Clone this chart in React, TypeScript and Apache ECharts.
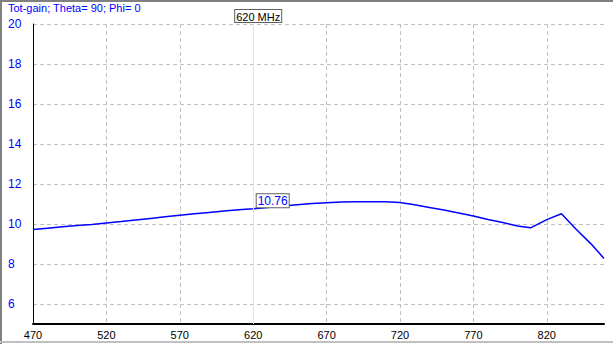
import React, { useEffect, useRef } from "react";
import * as echarts from "echarts";

const titleText = "Tot-gain; Theta= 90; Phi= 0";
const freqs = [470, 480, 490, 500, 510, 520, 530, 540, 550, 560, 570, 580, 590, 600, 610, 620, 630, 640, 650, 660, 670, 680, 690, 700, 710, 720, 730, 740, 750, 760, 770, 780, 790, 800, 809, 820, 830, 840, 850, 859];
const gains = [9.72, 9.79, 9.86, 9.92, 9.98, 10.05, 10.12, 10.2, 10.28, 10.36, 10.44, 10.51, 10.58, 10.65, 10.71, 10.76, 10.83, 10.9, 10.96, 11.02, 11.06, 11.1, 11.11, 11.11, 11.11, 11.07, 10.96, 10.83, 10.7, 10.55, 10.4, 10.23, 10.07, 9.9, 9.81, 10.22, 10.51, 9.74, 9.02, 8.28];
const xTicks = [470, 520, 570, 620, 670, 720, 770, 820];
const yTicks = [6, 8, 10, 12, 14, 16, 18, 20];
const markerFreq = 620;
const markerLabel = "620 MHz";

const FONT = "Liberation Sans";

export default function App() {
  const ref = useRef<HTMLDivElement>(null);
  useEffect(() => {
    if (!ref.current) return;
    const chart = echarts.init(ref.current, undefined, { renderer: "svg" });
    const idx = freqs.indexOf(markerFreq);
    const markerValue = gains[idx];
    chart.setOption({
      animation: false,
      backgroundColor: "#ffffff",
      textStyle: { fontFamily: FONT },
      title: {
        text: titleText,
        left: 8,
        top: 2,
        padding: 0,
        textStyle: { color: "#0000ff", fontSize: 11, fontWeight: "normal", fontFamily: FONT },
      },
      grid: { left: 33, top: 24, right: 9, bottom: 20, containLabel: false },
      xAxis: {
        type: "value",
        min: 470,
        max: 859,
        axisLine: { show: true, onZero: false, lineStyle: { color: "#000000", width: 2 } },
        axisTick: { show: false, customValues: xTicks },
        axisLabel: {
          customValues: xTicks,
          color: "#000000",
          fontSize: 11,
          fontFamily: FONT,
          margin: 5,
        },
        splitLine: { show: true, lineStyle: { color: "#c0c0c0", type: [4, 3], width: 1 } },
      },
      yAxis: {
        type: "value",
        min: 5,
        max: 20,
        axisLine: { show: true, onZero: false, lineStyle: { color: "#000000", width: 1 } },
        axisTick: { show: false, customValues: yTicks },
        axisLabel: {
          customValues: yTicks,
          color: "#0000ff",
          fontSize: 12,
          fontFamily: FONT,
          align: "left",
          margin: 25,
          padding: [0, 0, 3, 0],
        },
        splitLine: { show: true, lineStyle: { color: "#c0c0c0", type: [4, 3], width: 1 } },
      },
      series: [
        {
          type: "line",
          data: freqs.map((f, i) => [f, gains[i]]),
          showSymbol: false,
          lineStyle: { color: "#0000ff", width: 1.5 },
          itemStyle: { color: "#0000ff" },
          markLine: {
            silent: true,
            symbol: ["none", "none"],
            lineStyle: { color: "#ffff00", type: "solid", width: 1 },
            label: {
              show: true,
              position: "end",
              formatter: markerLabel,
              color: "#000000",
              fontSize: 11,
              fontFamily: FONT,
              backgroundColor: "#ffffff",
              borderColor: "#606060",
              borderWidth: 1,
              padding: [1, 1, 0, 1],
              distance: 2,
              offset: [5, 0],
            },
            data: [{ xAxis: markerFreq }],
          },
          markPoint: {
            silent: true,
            symbol: "rect",
            symbolSize: 1,
            itemStyle: { color: "rgba(0,0,0,0)" },
            label: {
              show: true,
              position: "right",
              distance: 1,
              offset: [2, -8],
              formatter: markerValue.toFixed(2),
              color: "#0000ff",
              fontSize: 12,
              fontFamily: FONT,
              backgroundColor: "#ffffff",
              borderColor: "#606060",
              borderWidth: 1,
              padding: [1, 1, 0, 1],
            },
            data: [{ coord: [markerFreq, markerValue] }],
          },
        },
      ],
      graphic: [
        { type: "rect", left: 0, top: 0, shape: { width: 613, height: 2 }, style: { fill: "#808080" }, silent: true },
        { type: "rect", left: 0, top: 0, shape: { width: 2, height: 344 }, style: { fill: "#808080" }, silent: true },
        { type: "rect", left: 0, top: 341, shape: { width: 613, height: 2 }, style: { fill: "#c0c0c0" }, silent: true },
      ],
    });
    return () => chart.dispose();
  }, []);
  return (
    <div
      ref={ref}
      style={{ position: "fixed", left: 0, top: 0, width: 613, height: 344 }}
    />
  );
}
